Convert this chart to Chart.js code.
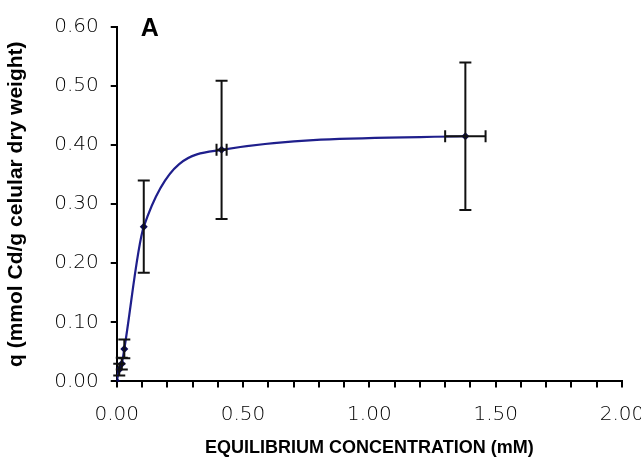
<!DOCTYPE html>
<html>
<head>
<meta charset="utf-8">
<script src="https://cdn.jsdelivr.net/npm/chart.js@4/dist/chart.umd.min.js"></script>
<style>
  html, body { margin: 0; padding: 0; background: #fff; overflow: hidden; }
  #wrap { width: 665px; height: 459px; }
</style>
</head>
<body>
<div id="wrap"><canvas id="isoChart"></canvas></div>
<script>
// equilibrium concentration (mM) and uptake q (mmol Cd/g)
var conc = [0, 0.01, 0.02, 0.03, 0.107, 0.415, 1.38];
var qVals = [0, 0.02, 0.03, 0.055, 0.262, 0.392, 0.415];
var qErr = [0, 0.01, 0.01, 0.016, 0.078, 0.117, 0.125];
var concErr = [0, 0, 0, 0, 0, 0.02, 0.08];
var xTicks = [0, 0.5, 1.0, 1.5, 2.0];

var points = conc.map(function (c, i) { return { x: c, y: qVals[i] }; });

var TICKFONT = '"DejaVu Sans", Verdana, sans-serif';
var BOLDFONT = '"Liberation Sans", Arial, sans-serif';

// draws the error bars from the arrays above through the chart scales
var errorBars = {
  id: 'errorBars',
  afterDatasetsDraw: function (chart) {
    var ctx = chart.ctx;
    var xs = chart.scales.x, ys = chart.scales.y;
    var cap = 6;
    ctx.save();
    ctx.strokeStyle = '#111';
    ctx.lineWidth = 2;
    for (var i = 0; i < conc.length; i++) {
      var px = xs.getPixelForValue(conc[i]);
      var py = ys.getPixelForValue(qVals[i]);
      if (qErr[i] > 0) {
        var top = ys.getPixelForValue(qVals[i] + qErr[i]);
        var bot = ys.getPixelForValue(qVals[i] - qErr[i]);
        ctx.beginPath();
        ctx.moveTo(px, top); ctx.lineTo(px, bot);
        ctx.moveTo(px - cap, top); ctx.lineTo(px + cap, top);
        ctx.moveTo(px - cap, bot); ctx.lineTo(px + cap, bot);
        ctx.stroke();
      }
      if (concErr[i] > 0) {
        var l = xs.getPixelForValue(conc[i] - concErr[i]);
        var r = xs.getPixelForValue(conc[i] + concErr[i]);
        ctx.beginPath();
        ctx.moveTo(l, py); ctx.lineTo(r, py);
        ctx.moveTo(l, py - cap); ctx.lineTo(l, py + cap);
        ctx.moveTo(r, py - cap); ctx.lineTo(r, py + cap);
        ctx.stroke();
      }
    }
    ctx.restore();
  }
};

var panelLabel = {
  id: 'panelLabel',
  afterDraw: function (chart) {
    var ctx = chart.ctx;
    ctx.save();
    ctx.font = 'bold 25px ' + BOLDFONT;
    ctx.fillStyle = '#000';
    ctx.textBaseline = 'middle';
    ctx.fillText('A', chart.chartArea.left + 24, chart.chartArea.top + 2);
    ctx.restore();
  }
};

var ctx = document.getElementById('isoChart').getContext('2d');
var isoChart = new Chart(ctx, {
  type: 'scatter',
  data: {
    datasets: [{
      data: points,
      showLine: true,
      cubicInterpolationMode: 'monotone',
      borderColor: '#1f1f8c',
      borderWidth: 2.2,
      backgroundColor: '#0a0a55',
      pointStyle: 'rectRot',
      pointRadius: 4,
      pointBorderWidth: 0
    }]
  },
  plugins: [errorBars, panelLabel],
  options: {
    responsive: true,
    maintainAspectRatio: false,
    animation: false,
    layout: { padding: { top: 27, left: 3, right: 43, bottom: 0 } },
    plugins: {
      legend: { display: false },
      tooltip: { enabled: false }
    },
    scales: {
      x: {
        type: 'linear',
        min: 0,
        max: 2,
        border: { color: '#000', width: 2 },
        grid: { drawOnChartArea: false, drawTicks: true, tickLength: 6, color: '#000', lineWidth: 2 },
        ticks: {
          stepSize: 0.1,
          autoSkip: false,
          maxRotation: 0,
          color: '#000',
          padding: 15,
          font: { family: TICKFONT, size: 20, weight: 300 },
          callback: function (v) {
            var hit = xTicks.find(function (t) { return Math.abs(t - v) < 1e-6; });
            return hit === undefined ? '' : hit.toFixed(2);
          }
        },
        title: {
          display: true,
          text: 'EQUILIBRIUM CONCENTRATION (mM)',
          color: '#000',
          font: { family: BOLDFONT, size: 18, weight: 'bold' },
          padding: { top: -4, bottom: 0 }
        }
      },
      y: {
        min: 0,
        max: 0.6,
        border: { color: '#000', width: 2 },
        grid: { drawOnChartArea: false, drawTicks: true, tickLength: 6, color: '#000', lineWidth: 2 },
        ticks: {
          stepSize: 0.1,
          color: '#000',
          padding: 12,
          font: { family: TICKFONT, size: 20, weight: 300 },
          callback: function (v) { return v.toFixed(2); }
        },
        title: {
          display: true,
          text: 'q (mmol Cd/g celular dry weight)',
          color: '#000',
          font: { family: BOLDFONT, size: 21, weight: 'bold' },
          padding: { top: 1, bottom: 13 }
        }
      }
    }
  }
});
</script>
</body>
</html>
